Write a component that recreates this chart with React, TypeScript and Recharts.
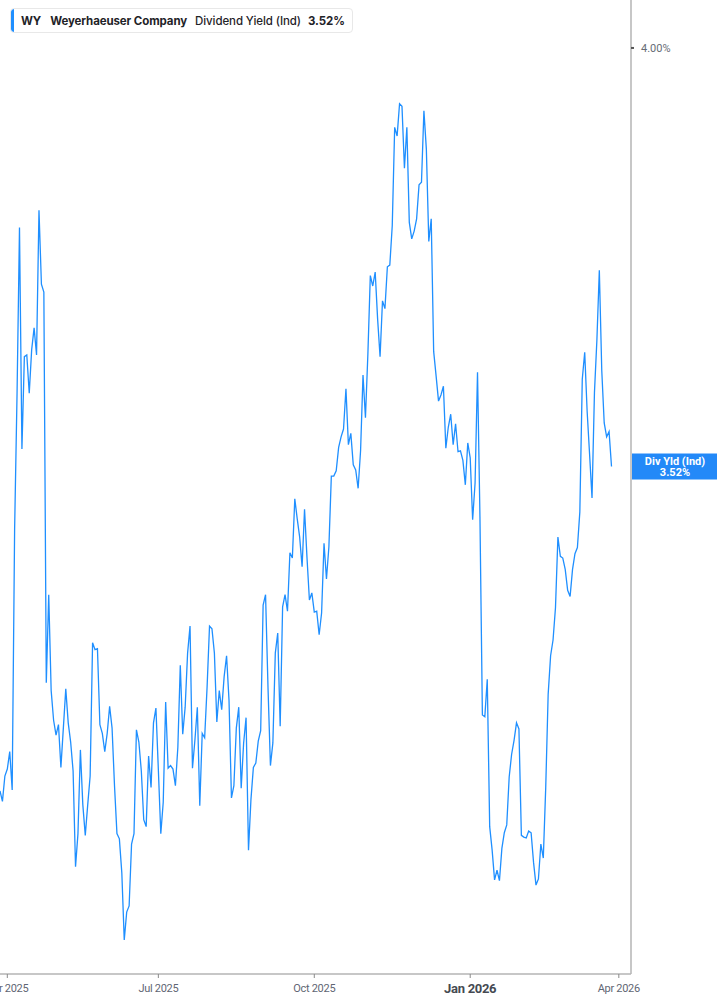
import React from 'react';
import { LineChart, Line, XAxis, YAxis, ReferenceLine } from 'recharts';

// trading-day dividend yield (%), one value per session, oldest first
const yieldValues: number[] = [
  3.148, 3.136, 3.165, 3.173, 3.193, 3.149, 3.448, 3.604, 3.794, 3.540,
  3.646, 3.648, 3.604, 3.654, 3.679, 3.648, 3.814, 3.729, 3.720, 3.272,
  3.373, 3.263, 3.229, 3.212, 3.224, 3.175, 3.220, 3.265, 3.226, 3.204,
  3.171, 3.061, 3.099, 3.195, 3.132, 3.097, 3.132, 3.165, 3.318, 3.310,
  3.311, 3.224, 3.214, 3.193, 3.214, 3.245, 3.220, 3.154, 3.099, 3.093,
  3.054, 2.977, 3.009, 3.016, 3.087, 3.099, 3.218, 3.204, 3.171, 3.115,
  3.107, 3.188, 3.152, 3.226, 3.243,
  3.172, 3.099, 3.135, 3.250, 3.174, 3.177, 3.173, 3.154, 3.198, 3.292,
  3.213, 3.244, 3.306, 3.337, 3.174, 3.206, 3.244, 3.131, 3.214, 3.209,
  3.267, 3.337, 3.334, 3.306, 3.227, 3.263, 3.241, 3.279, 3.303, 3.252,
  3.140, 3.154, 3.220, 3.244, 3.151, 3.203, 3.232, 3.080, 3.138, 3.175,
  3.180, 3.205, 3.217, 3.361, 3.373, 3.267, 3.177, 3.203, 3.306, 3.329,
  3.222, 3.359, 3.373, 3.354, 3.421, 3.415, 3.483, 3.460, 3.439, 3.405,
  3.471, 3.416, 3.367, 3.375, 3.353,
  3.354, 3.327, 3.352, 3.432, 3.391, 3.428, 3.509, 3.509, 3.515, 3.542,
  3.554, 3.563, 3.609, 3.545, 3.558, 3.522, 3.516, 3.495, 3.538, 3.625,
  3.576, 3.649, 3.739, 3.727, 3.743, 3.689, 3.646, 3.710, 3.701, 3.749,
  3.751, 3.796, 3.909, 3.899, 3.936, 3.933, 3.862, 3.909, 3.800, 3.781,
  3.790, 3.804, 3.843, 3.846, 3.928, 3.884, 3.778, 3.804, 3.652, 3.624,
  3.595, 3.602, 3.612, 3.541, 3.565, 3.580, 3.545, 3.569, 3.537, 3.538,
  3.527, 3.499, 3.547, 3.530, 3.459, 3.501, 3.628,
  3.462, 3.235, 3.233, 3.276, 3.107, 3.080, 3.046, 3.057, 3.045, 3.082,
  3.100, 3.109, 3.164, 3.190, 3.206, 3.226, 3.219, 3.097, 3.095, 3.094,
  3.102, 3.100, 3.066, 3.040, 3.047, 3.087, 3.071, 3.152, 3.259, 3.303,
  3.321, 3.358, 3.439, 3.417, 3.415, 3.402, 3.378, 3.371, 3.402, 3.420,
  3.427, 3.468, 3.620, 3.651, 3.583, 3.534, 3.484, 3.605, 3.665, 3.745,
  3.630, 3.570, 3.554, 3.560, 3.520,
];

// session index of the first trading day of each quarter
const tickIndex = [3, 65, 129, 193, 254];
const tickLabels = ['Apr 2025', 'Jul 2025', 'Oct 2025', 'Jan 2026', 'Apr 2026'];
const yTicks = [4.0];
const lastYield = 3.52;

const data = yieldValues.map((v, i) => ({ idx: i, yld: v }));

const XTick = ({ x, y, payload }: any) => {
  const i = tickIndex.indexOf(payload.value);
  const label = tickLabels[i] ?? '';
  const isYear = label.startsWith('Jan');
  return (
    <text
      x={x}
      y={y}
      dy={isYear ? 13 : 12}
      textAnchor="middle"
      fontFamily="Roboto, sans-serif"
      fontSize={isYear ? 13 : 11}
      fontWeight={isYear ? 700 : 400}
      fill={isYear ? '#454a52' : '#5f6673'}
      letterSpacing={-0.3}
    >
      {label}
    </text>
  );
};

const LastValueLabel = ({ viewBox }: any) => {
  if (!viewBox) return null;
  const left = viewBox.x + viewBox.width + 1;
  const cy = viewBox.y;
  return (
    <g>
      <rect x={left} y={cy - 13} width={86} height={26} fill="#2389f8" />
      <text
        x={left + 43}
        y={cy - 2}
        textAnchor="middle"
        fontFamily="Roboto, sans-serif"
        fontSize={11}
        fontWeight={700}
        fill="#ffffff"
      >
        Div Yld (Ind)
      </text>
      <text
        x={left + 43}
        y={cy + 9}
        textAnchor="middle"
        fontFamily="Roboto, sans-serif"
        fontSize={11}
        fontWeight={700}
        fill="#ffffff"
      >
        {lastYield.toFixed(2)}%
      </text>
    </g>
  );
};

const App: React.FC = () => {
  return (
    <div style={{ position: 'relative', width: 717, height: 1005, background: '#fff' }}>
      <style>{'body{margin:0}'}</style>
      <LineChart width={717} height={1005} data={data} margin={{ top: 0, right: 0, left: 0, bottom: 0 }}>
        <XAxis
          dataKey="idx"
          type="number"
          domain={[0, 259]}
          ticks={tickIndex}
          interval={0}
          height={31}
          tick={<XTick />}
          tickSize={4}
          tickMargin={2}
          axisLine={{ stroke: '#b5b5b5', strokeWidth: 1.5 }}
          tickLine={{ stroke: '#8a8a8a' }}
          allowDataOverflow
        />
        <YAxis
          orientation="right"
          type="number"
          domain={[2.938, 4.055]}
          ticks={yTicks}
          width={86}
          tickSize={3}
          tickMargin={7}
          tickFormatter={(v: number) => `${v.toFixed(2)}%`}
          tick={{ fontSize: 11, fill: '#666c75', fontFamily: 'Roboto, sans-serif' }}
          axisLine={{ stroke: '#b5b5b5', strokeWidth: 1.5 }}
          tickLine={{ stroke: '#555', strokeWidth: 2 }}
          allowDataOverflow
        />
        <Line
          type="linear"
          dataKey="yld"
          stroke="#1f8fff"
          strokeWidth={1.3}
          dot={false}
          activeDot={false}
          isAnimationActive={false}
        />
        <ReferenceLine y={lastYield} stroke="none" strokeOpacity={0} label={<LastValueLabel />} />
      </LineChart>
      <div
        style={{
          position: 'absolute',
          left: 10,
          top: 8,
          width: 343,
          height: 25,
          boxSizing: 'border-box',
          border: '1px solid #e8e8e8',
          borderRadius: 4,
          background: '#fff',
          display: 'flex',
          alignItems: 'center',
          fontFamily: 'Inter, sans-serif',
          fontSize: 11.5,
          letterSpacing: -0.1,
          color: '#1f2328',
          overflow: 'hidden',
          whiteSpace: 'nowrap',
        }}
      >
        <div style={{ width: 3, alignSelf: 'stretch', background: '#1f8fff', borderRadius: '3px 0 0 3px' }} />
        <span style={{ fontWeight: 700, marginLeft: 7 }}>WY</span>
        <span style={{ fontWeight: 700, marginLeft: 9 }}>Weyerhaeuser Company</span>
        <span style={{ fontWeight: 500, marginLeft: 8 }}>Dividend Yield (Ind)</span>
        <span style={{ fontWeight: 700, marginLeft: 7 }}>3.52%</span>
      </div>
    </div>
  );
};

export default App;
